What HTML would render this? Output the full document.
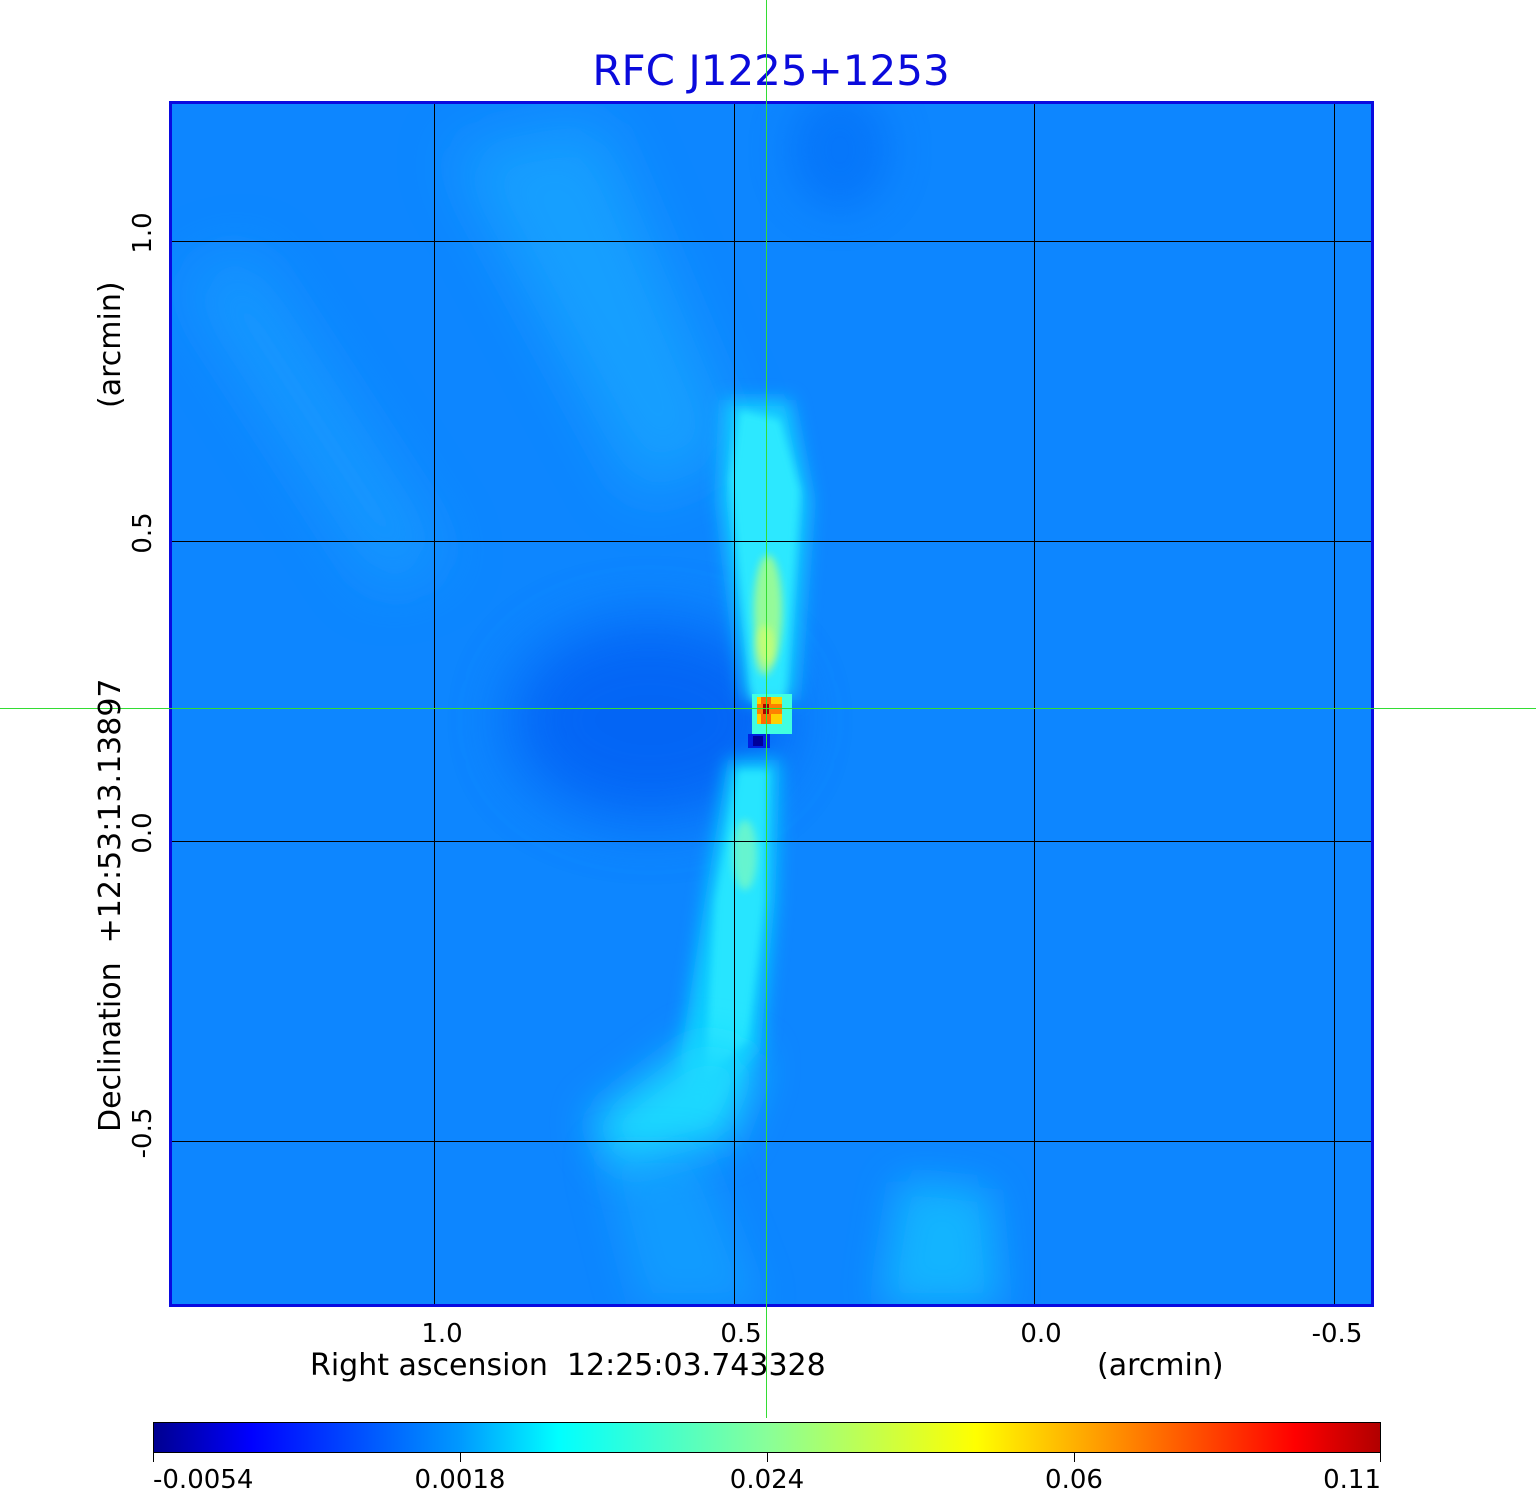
<!DOCTYPE html>
<html><head><meta charset="utf-8"><style>
html,body{margin:0;padding:0;background:#fff;}
svg{display:block;font-family:"DejaVu Sans","Liberation Sans",sans-serif;}
</style></head><body>
<svg width="1536" height="1511" viewBox="0 0 1536 1511" xmlns="http://www.w3.org/2000/svg">
<defs>
<filter id="b30" x="-50%" y="-50%" width="200%" height="200%"><feGaussianBlur stdDeviation="30"/></filter>
<filter id="b20" x="-50%" y="-50%" width="200%" height="200%"><feGaussianBlur stdDeviation="20"/></filter>
<filter id="b10" x="-50%" y="-50%" width="200%" height="200%"><feGaussianBlur stdDeviation="9"/></filter>
<filter id="b4" x="-50%" y="-50%" width="200%" height="200%"><feGaussianBlur stdDeviation="4"/></filter>
<clipPath id="pc"><rect x="170" y="102" width="1203" height="1204"/></clipPath>
<linearGradient id="jet" x1="153" x2="1381" y1="0" y2="0" gradientUnits="userSpaceOnUse">
<stop offset="0" stop-color="#00008f"/>
<stop offset="0.08" stop-color="#0000ff"/>
<stop offset="0.25" stop-color="#0099ff"/>
<stop offset="0.33" stop-color="#00ffff"/>
<stop offset="0.5" stop-color="#88ff99"/>
<stop offset="0.67" stop-color="#ffff00"/>
<stop offset="0.93" stop-color="#ff0000"/>
<stop offset="1" stop-color="#b00000"/>
</linearGradient>
</defs>
<text x="771" y="85" font-size="42" fill="#0a0adc" text-anchor="middle">RFC J1225+1253</text>
<g clip-path="url(#pc)">
<rect x="170" y="102" width="1203" height="1204" fill="#0d86ff"/>
<!-- dark regions -->
<ellipse cx="650" cy="720" rx="140" ry="100" fill="#0058f2" filter="url(#b30)" opacity="0.7"/>
<ellipse cx="840" cy="150" rx="50" ry="60" fill="#0068f5" filter="url(#b20)" opacity="0.5"/>
<!-- light diagonal streaks upper left -->
<polygon points="180,280 250,250 450,560 380,590" fill="#1aa4ff" filter="url(#b30)" opacity="0.6"/>
<polygon points="450,150 600,120 740,450 640,500" fill="#1cb0ff" filter="url(#b30)" opacity="0.6"/>
<!-- central jet up -->
<polygon points="725,400 790,400 810,500 795,700 745,700 720,500" fill="#12ccff" filter="url(#b10)"/>
<polygon points="740,410 780,420 800,490 785,700 752,700 730,480" fill="#30f0ff" filter="url(#b4)" opacity="0.8"/>
<ellipse cx="768" cy="610" rx="14" ry="55" fill="#b0ff80" filter="url(#b4)" opacity="0.8"/>
<ellipse cx="765" cy="650" rx="10" ry="25" fill="#e0ff60" filter="url(#b4)" opacity="0.6"/>
<!-- lower jet -->
<polygon points="728,760 780,760 775,900 760,1050 700,1120 680,1060 705,900" fill="#10ccff" filter="url(#b10)"/>
<polygon points="738,770 768,770 765,900 748,1040 705,1080 715,900" fill="#30f0ff" filter="url(#b4)" opacity="0.7"/>
<ellipse cx="745" cy="855" rx="12" ry="35" fill="#90ffb0" filter="url(#b4)" opacity="0.6"/>
<!-- fan at bottom -->
<polygon points="700,1040 760,1060 730,1140 620,1170 590,1120" fill="#1ad8ff" filter="url(#b20)"/>
<polygon points="900,1180 990,1190 1000,1306 880,1306" fill="#18c8ff" filter="url(#b20)" opacity="0.7"/>
<polygon points="600,1150 700,1150 760,1306 640,1306" fill="#14b0ff" filter="url(#b20)" opacity="0.5"/>
<!-- core -->
<rect x="752" y="694" width="40" height="40" fill="#40ffe0"/>
<rect x="757" y="697" width="25" height="27" fill="#ffd000"/>
<rect x="761" y="697" width="10" height="27" fill="#ff6a00"/>
<rect x="757" y="704" width="25" height="10" fill="#ff8000"/>
<rect x="763" y="704" width="6" height="10" fill="#aa0000"/>
<rect x="748" y="734" width="22" height="14" fill="#0020e0"/>
<rect x="753" y="736" width="10" height="10" fill="#00009a"/>
<!-- grid -->
<g stroke="#000" stroke-width="1">
<line x1="434.5" y1="102" x2="434.5" y2="1306"/><line x1="734.5" y1="102" x2="734.5" y2="1306"/>
<line x1="1034.5" y1="102" x2="1034.5" y2="1306"/><line x1="1334.5" y1="102" x2="1334.5" y2="1306"/>
<line x1="170" y1="241.5" x2="1373" y2="241.5"/><line x1="170" y1="541.5" x2="1373" y2="541.5"/>
<line x1="170" y1="841.5" x2="1373" y2="841.5"/><line x1="170" y1="1141.5" x2="1373" y2="1141.5"/>
</g>
</g>
<rect x="170.5" y="102.5" width="1202" height="1203" fill="none" stroke="#0a0ae0" stroke-width="3"/>
<!-- crosshair -->
<line x1="766.5" y1="0" x2="766.5" y2="1418" stroke="#33dd33" stroke-width="1"/>
<line x1="0" y1="708.5" x2="1536" y2="708.5" stroke="#33dd33" stroke-width="1"/>
<!-- axis labels -->
<g font-size="26" fill="#000" text-anchor="middle">
<text x="442" y="1342">1.0</text><text x="741" y="1342">0.5</text>
<text x="1041" y="1342">0.0</text><text x="1337" y="1342">-0.5</text>
</g>
<text x="310" y="1375" font-size="30" fill="#000" xml:space="preserve">Right ascension&#160; 12:25:03.743328</text>
<text x="1097" y="1375" font-size="30" fill="#000">(arcmin)</text>
<g font-size="26" fill="#000" text-anchor="middle">
<text transform="translate(151,233) rotate(-90)">1.0</text>
<text transform="translate(151,533) rotate(-90)">0.5</text>
<text transform="translate(151,833) rotate(-90)">0.0</text>
<text transform="translate(151,1133) rotate(-90)">-0.5</text>
</g>
<text transform="translate(120,1132) rotate(-90)" font-size="30" fill="#000" xml:space="preserve">Declination&#160; +12:53:13.13897</text>
<text transform="translate(120,408) rotate(-90)" font-size="30" fill="#000">(arcmin)</text>
<!-- colorbar -->
<rect x="153.5" y="1422.5" width="1227" height="30" fill="url(#jet)" stroke="#000" stroke-width="1"/>
<g stroke="#000" stroke-width="1">
<line x1="153.5" y1="1453" x2="153.5" y2="1462"/><line x1="460.5" y1="1453" x2="460.5" y2="1462"/>
<line x1="767.5" y1="1453" x2="767.5" y2="1462"/><line x1="1074.5" y1="1453" x2="1074.5" y2="1462"/>
<line x1="1380.5" y1="1453" x2="1380.5" y2="1462"/>
</g>
<g font-size="26" fill="#000">
<text x="153" y="1488">-0.0054</text>
<text x="460" y="1488" text-anchor="middle">0.0018</text>
<text x="767" y="1488" text-anchor="middle">0.024</text>
<text x="1074" y="1488" text-anchor="middle">0.06</text>
<text x="1381" y="1488" text-anchor="end">0.11</text>
</g>
</svg>
</body></html>
